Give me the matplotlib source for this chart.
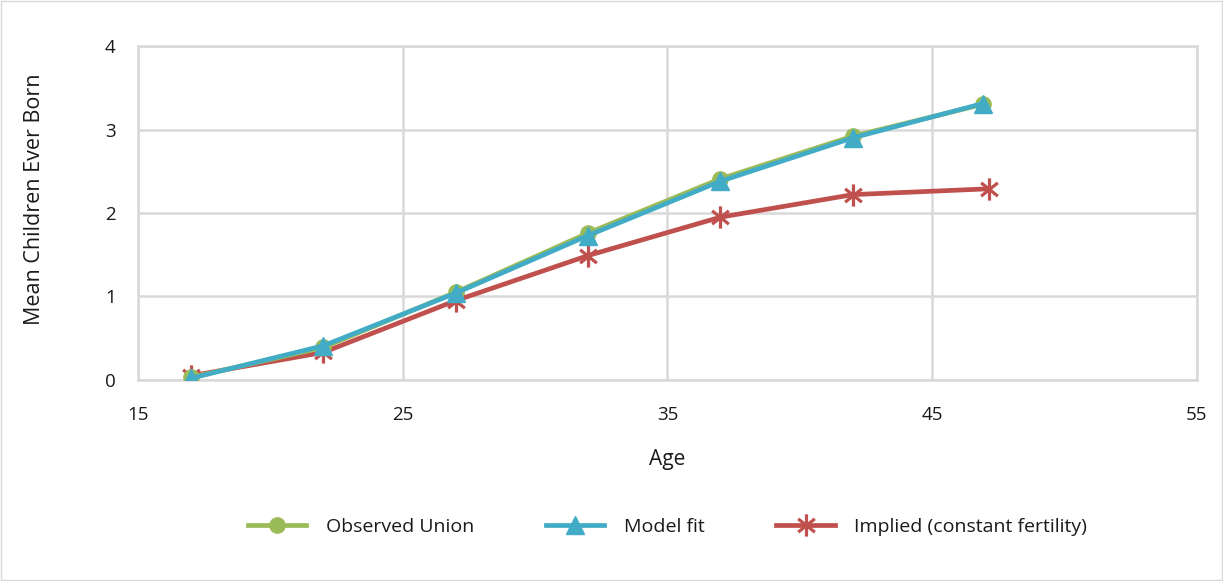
import numpy as np
import matplotlib as mpl
mpl.use('Agg')
import matplotlib.pyplot as plt
from matplotlib.path import Path
from matplotlib.patches import Rectangle

plt.rcParams['font.family'] = ['Open Sans', 'DejaVu Sans']

# Data
age_obs = [17.0, 22.0, 27.0, 32.0, 37.0, 42.0, 46.9]
observed_union = [0.03, 0.39, 1.05, 1.76, 2.41, 2.92, 3.30]
model_fit = [0.02, 0.41, 1.04, 1.73, 2.38, 2.90, 3.31]
age_imp = [17.0, 22.0, 27.0, 32.0, 37.0, 42.0, 47.15]
implied = [0.05, 0.33, 0.95, 1.49, 1.95, 2.22, 2.29]

x_ticks = [15, 25, 35, 45, 55]
y_ticks = [0, 1, 2, 3, 4]

green = '#9bbb59'
blue = '#42acc6'
red = '#c0504d'
grid_col = '#d9d9d9'
txt = '#1a1a1a'

# asterisk marker: vertical bar plus an X
star = Path([(0, -1), (0, 1), (-0.75, -0.6), (0.75, 0.6), (-0.75, 0.6), (0.75, -0.6)],
            [Path.MOVETO, Path.LINETO, Path.MOVETO, Path.LINETO, Path.MOVETO, Path.LINETO])

fig = plt.figure(figsize=(12.23, 5.81), dpi=100)
ax = fig.add_axes([0.1128, 0.346, 0.8659, 0.5748])

lw = 3.4
ax.plot(age_obs, observed_union, color=green, lw=lw, marker='o', ms=11,
        label='Observed Union', zorder=3)
ax.plot(age_obs, model_fit, color=blue, lw=lw, marker='^', ms=13,
        label='Model fit', zorder=4)
ax.plot(age_imp, implied, color=red, lw=lw, marker=star, ms=16, mew=2.3,
        label='Implied (constant fertility)', zorder=2)

ax.set_xlim(15, 55)
ax.set_ylim(0, 4)
ax.set_xticks(x_ticks)
ax.set_yticks(y_ticks)
ax.grid(True, color=grid_col, lw=1.8)
ax.set_axisbelow(True)
for s in ax.spines.values():
    s.set_color(grid_col)
    s.set_linewidth(1.8)
ax.tick_params(length=0, labelsize=13.5, colors=txt)
ax.tick_params(axis='y', pad=16)
ax.tick_params(axis='x', pad=19)

ax.set_xlabel('Age', fontsize=15, color=txt, labelpad=18)
ax.set_ylabel('Mean Children Ever Born', fontsize=15.5, color=txt)
ax.yaxis.set_label_coords(-0.088, 0.54)

leg = ax.legend(loc='upper center', bbox_to_anchor=(0.5, -0.36), ncol=3,
                frameon=False, fontsize=14, handlelength=3.0,
                columnspacing=3.7, handletextpad=1.0)
for t in leg.get_texts():
    t.set_color(txt)

fig.patches.append(Rectangle((0.001, 0.001), 0.998, 0.998, transform=fig.transFigure,
                             fill=False, edgecolor='#d9d9d9', lw=1))

plt.savefig('out.png', dpi=100)
